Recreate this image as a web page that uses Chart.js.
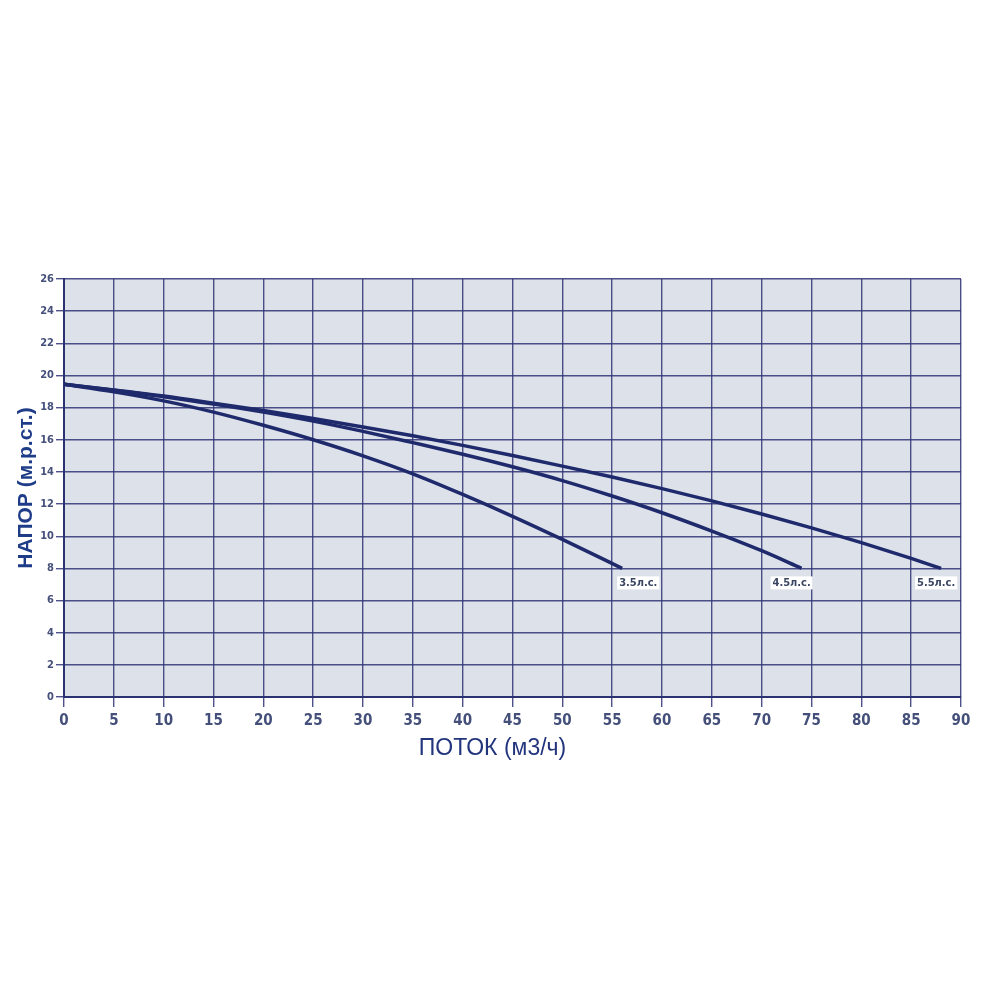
<!DOCTYPE html>
<html>
<head>
<meta charset="utf-8">
<script src="https://cdn.jsdelivr.net/npm/chart.js@4.4.1/dist/chart.umd.min.js"></script>
<style>
html,body{margin:0;padding:0;background:#ffffff;}
#c{display:block;}
</style>
</head>
<body>
<canvas id="c" width="1000" height="1000"></canvas>
<script>
// ---- data ----
const seriesNames = ['3.5л.с.', '4.5л.с.', '5.5л.с.'];
const flow35 = [0, 5, 10, 15, 20, 25, 30, 35, 40, 45, 50, 56];
const head35 = [19.45, 18.98, 18.42, 17.72, 16.9, 16.0, 15.0, 13.88, 12.6, 11.24, 9.8, 8.0];
const flow45 = [0, 5, 10, 15, 20, 25, 30, 35, 40, 45, 50, 55, 60, 65, 70, 74];
const head45 = [19.45, 19.08, 18.68, 18.22, 17.72, 17.16, 16.52, 15.82, 15.1, 14.32, 13.46, 12.5, 11.46, 10.32, 9.1, 8.0];
const flow55 = [0, 5, 10, 15, 20, 25, 30, 35, 40, 45, 50, 55, 60, 65, 70, 75, 80, 85, 88];
const head55 = [19.45, 19.1, 18.72, 18.28, 17.82, 17.32, 16.8, 16.25, 15.65, 15.02, 14.36, 13.68, 12.96, 12.2, 11.38, 10.52, 9.6, 8.62, 8.0];
const xTitle = 'ПОТОК (м3/ч)';
const yTitle = 'НАПОР (м.р.ст.)';

function pts(xs, ys){ return xs.map((x,i)=>({x:x, y:ys[i]})); }

const lineColor = '#1e2a6c';
const labelOffsets = [-5, -31, -26];

const bgPlugin = {
  id: 'plotBg',
  beforeDraw(chart){
    const {ctx, chartArea:a} = chart;
    ctx.save();
    ctx.fillStyle = '#dde1ea';
    ctx.fillRect(a.left, a.top, a.right - a.left, a.bottom - a.top);
    ctx.restore();
  }
};

const labelPlugin = {
  id: 'endLabels',
  afterDatasetsDraw(chart){
    const ctx = chart.ctx;
    ctx.save();
    ctx.font = "bold 11px 'Liberation Sans Narrow', 'DejaVu Sans Condensed', sans-serif";
    ctx.textBaseline = 'middle';
    ctx.textAlign = 'left';
    chart.data.datasets.forEach((ds, i) => {
      const meta = chart.getDatasetMeta(i);
      const p = meta.data[meta.data.length - 1];
      const w = ctx.measureText(ds.label).width + 4;
      const left = p.x + labelOffsets[i];
      const top = p.y + 8;
      ctx.fillStyle = '#ffffff';
      ctx.fillRect(left, top, w, 13);
      ctx.fillStyle = '#3b4663';
      ctx.fillText(ds.label, left + 2, top + 7);
    });
    // x axis title
    const a = chart.chartArea;
    ctx.font = "23px 'Liberation Sans', Arial, sans-serif";
    ctx.fillStyle = '#22347c';
    ctx.textAlign = 'center';
    ctx.fillText(xTitle, (a.left + a.right) / 2 - 20, a.bottom + 52);
    ctx.restore();
  }
};

new Chart(document.getElementById('c'), {
  type: 'line',
  data: {
    datasets: [
      {label: seriesNames[0], data: pts(flow35, head35)},
      {label: seriesNames[1], data: pts(flow45, head45)},
      {label: seriesNames[2], data: pts(flow55, head55)}
    ].map(d => Object.assign(d, {
      borderColor: lineColor, borderWidth: 3.5, pointRadius: 0,
      cubicInterpolationMode: 'monotone', fill: false
    }))
  },
  options: {
    responsive: false,
    animation: false,
    devicePixelRatio: 1,
    layout: {padding: {left: 0, top: 279, right: 39, bottom: 243}},
    plugins: {legend: {display: false}, tooltip: {enabled: false}},
    scales: {
      x: {
        type: 'linear', min: 0, max: 90,
        afterFit(s){ s.height = 60; },
        ticks: {stepSize: 5, padding: 5, color: '#44507a',
          font: {family: "'Liberation Sans Narrow', 'DejaVu Sans Condensed', sans-serif", size: 15, weight: 'bold'}},
        grid: {color: 'rgba(48,52,118,0.85)', lineWidth: 1.4, tickLength: 10, tickColor: 'rgba(48,52,118,0.85)'},
        border: {display: true, color: '#2a3272', width: 2}
      },
      y: {
        type: 'linear', min: 0, max: 26,
        afterFit(s){ s.width = 64; },
        ticks: {stepSize: 2, padding: 2, color: '#44507a',
          font: {family: "'Liberation Sans Narrow', 'DejaVu Sans Condensed', sans-serif", size: 11, weight: 'bold'}},
        grid: {color: 'rgba(48,52,118,0.85)', lineWidth: 1.4, tickLength: 8, tickColor: 'rgba(48,52,118,0.85)'},
        border: {display: true, color: '#2a3272', width: 2},
        title: {display: true, text: yTitle, color: '#1f3c88', padding: {top: 14, bottom: 0},
          font: {family: "'Liberation Sans', Arial, sans-serif", size: 21, weight: 'bold'}}
      }
    }
  },
  plugins: [bgPlugin, labelPlugin]
});
</script>
</body>
</html>
